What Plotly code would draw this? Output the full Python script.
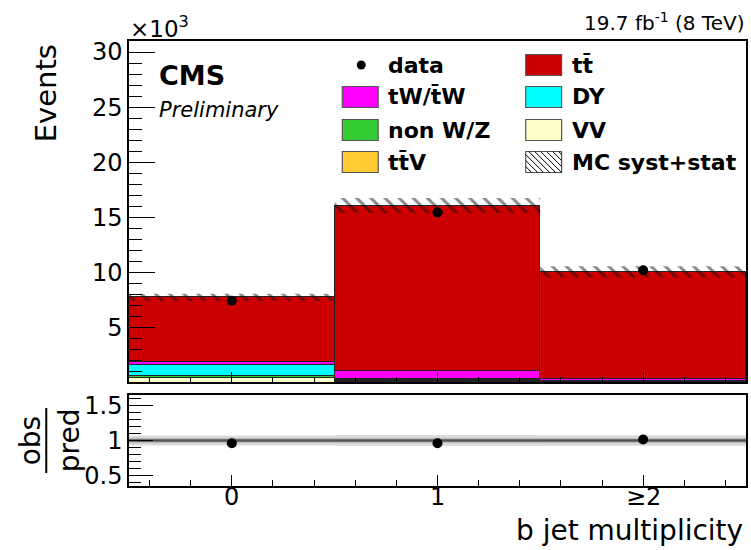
import plotly.graph_objects as go
import numpy as np

# ---------------- data ----------------
bins = [0, 1, 2]
bin_labels = ["0", "1", "≥2"]
vv = [420, 50, 5]
nonwz = [150, 120, 15]
ttv = [50, 70, 100]
dy = [950, 120, 20]
tw = [330, 700, 170]
ttbar = [5830, 15000, 9740]
mc_unc = [320, 680, 500]
data = [7430, 15430, 10200]
ratio_band_outer = [0.07, 0.08, 0.075]
ratio_band_inner = [0.038, 0.038, 0.04]

# ---------------- style ----------------
FONT = "DejaVu Sans"
colors = {
    "VV": "#FFFFCC", "non W/Z": "#33CC33", "ttV": "#FFCC33",
    "DY": "#00FFFF", "tW": "#FF00FF", "tt": "#CC0000",
}
W, H = 751, 550
ML, MR, MT, MB = 129, 3, 41, 64
PW, PH = W - ML - MR, H - MT - MB


def X(px):
    return (px - ML) / PW


def Y(py):
    return (H - MB - py) / PH


scale = 1000.0
stack = [("VV", vv), ("non W/Z", nonwz), ("ttV", ttv), ("DY", dy), ("tW", tw), ("tt", ttbar)]
total = np.sum([np.array(v, float) for _, v in stack], axis=0)
dat = np.array(data, float)
unc = np.array(mc_unc, float)

fig = go.Figure()
for name, vals in stack:
    fig.add_trace(go.Bar(
        x=bins, y=np.array(vals) / scale, width=1.0,
        marker=dict(color=colors[name], line=dict(color="#222222", width=1)),
        showlegend=False, xaxis="x", yaxis="y"))

edges = [b - 0.5 for b in bins] + [bins[-1] + 0.5]
lo = list((total - unc) / scale) + [(total[-1] - unc[-1]) / scale]
hi = list((total + unc) / scale) + [(total[-1] + unc[-1]) / scale]
fig.add_trace(go.Scatter(x=edges, y=lo, mode="lines", line=dict(width=0, shape="hv"),
                         showlegend=False, xaxis="x", yaxis="y", hoverinfo="skip"))
fig.add_trace(go.Scatter(x=edges, y=hi, mode="lines", line=dict(width=0, shape="hv"),
                         fill="tonexty", fillcolor="rgba(0,0,0,0)",
                         fillpattern=dict(shape="\\", fgcolor="#111111", bgcolor="rgba(0,0,0,0)",
                                          size=10, solidity=0.3),
                         showlegend=False, xaxis="x", yaxis="y", hoverinfo="skip"))

fig.add_trace(go.Scatter(
    x=bins, y=dat / scale, mode="markers",
    marker=dict(color="black", size=10),
    error_y=dict(type="data", array=np.sqrt(dat) / scale, color="black", thickness=1.5, width=0),
    showlegend=False, xaxis="x", yaxis="y"))

# ratio panel
for band, col in [(ratio_band_outer, "#DCDCDC"), (ratio_band_inner, "#BDBDBD")]:
    b = list(band) + [band[-1]]
    fig.add_trace(go.Scatter(x=edges, y=[1 - v for v in b], mode="lines",
                             line=dict(width=0, shape="hv"), showlegend=False,
                             xaxis="x2", yaxis="y2", hoverinfo="skip"))
    fig.add_trace(go.Scatter(x=edges, y=[1 + v for v in b], mode="lines",
                             line=dict(width=0, shape="hv"), fill="tonexty", fillcolor=col,
                             showlegend=False, xaxis="x2", yaxis="y2", hoverinfo="skip"))
fig.add_trace(go.Scatter(x=[edges[0], edges[-1]], y=[1, 1], mode="lines",
                         line=dict(color="#555555", width=2.5), showlegend=False,
                         xaxis="x2", yaxis="y2", hoverinfo="skip"))
fig.add_trace(go.Scatter(x=bins, y=dat / total, mode="markers",
                         marker=dict(color="black", size=10), showlegend=False,
                         xaxis="x2", yaxis="y2"))

axis_common = dict(showline=True, linecolor="black", linewidth=1.5, mirror=True,
                   showgrid=False, zeroline=False, ticks="inside", tickcolor="black",
                   tickfont=dict(family=FONT, size=24, color="black"))

fig.update_layout(
    width=W, height=H, margin=dict(l=ML, r=MR, t=MT, b=MB),
    paper_bgcolor="white", plot_bgcolor="white", barmode="stack", bargap=0,
    font=dict(family=FONT, color="black"),
    xaxis=dict(axis_common, domain=[0, 1], anchor="y", range=[-0.5, 2.5],
               tickmode="linear", tick0=0, dtick=1, ticklen=10, showticklabels=False,
               minor=dict(ticks="inside", ticklen=5, dtick=0.2, tick0=0, tickcolor="black")),
    yaxis=dict(axis_common, domain=[Y(382), 1], anchor="x", range=[0.05, 31],
               tickmode="linear", tick0=0, dtick=5, ticklen=26,
               minor=dict(ticks="inside", ticklen=13, dtick=1, tick0=0, tickcolor="black")),
    xaxis2=dict(axis_common, domain=[0, 1], anchor="y2", range=[-0.5, 2.5],
                tickmode="linear", tick0=0, dtick=1, ticklen=11, showticklabels=False,
                minor=dict(ticks="inside", ticklen=6, dtick=0.2, tick0=0, tickcolor="black")),
    yaxis2=dict(axis_common, domain=[0, Y(395)], anchor="x2", range=[0.35, 1.65],
                tickmode="linear", tick0=0, dtick=0.5, ticklen=24,
                minor=dict(ticks="inside", ticklen=12, dtick=0.1, tick0=0, tickcolor="black")),
)

ann = []
shapes = []


def text(s, px, py, size, xa="left", ya="middle", angle=0):
    ann.append(dict(text=s, x=X(px), y=Y(py), xref="paper", yref="paper",
                    xanchor=xa, yanchor=ya, showarrow=False, textangle=angle,
                    font=dict(family=FONT, size=size, color="black")))


# x tick labels of the ratio panel, placed on the x2 data scale
for b, lab in zip(bins, bin_labels):
    ann.append(dict(text=lab, x=b, xref="x2", y=Y(497), yref="paper",
                    xanchor="center", yanchor="middle", showarrow=False,
                    font=dict(family=FONT, size=24, color="black")))

text("Events", 46, 42, 29, xa="center", ya="top", angle=-90)
text("×10<sup>3</sup>", 128, 27, 23, xa="left")
text("19.7 fb<sup>-1</sup> (8 TeV)", 748, 22, 20, xa="right")
text("<b>CMS</b>", 157, 75, 27)
text("<i>Preliminary</i>", 157, 110, 21)
text("b jet multiplicity", 747, 530, 28, xa="right")
text("obs", 30, 440, 28, xa="center", angle=-90)
text("pred", 69, 440, 28, xa="center", angle=-90)
shapes.append(dict(type="line", xref="paper", yref="paper", x0=X(46), x1=X(46),
                   y0=Y(408), y1=Y(473), line=dict(color="black", width=2)))

# legend
legend_entries = [
    (343, 65, "data", "<b>data</b>"),
    (343, 97, "tW", "<b>tW/t\u0304W</b>"),
    (343, 130, "non W/Z", "<b>non W/Z</b>"),
    (343, 162, "ttV", "<b>tt\u0304V</b>"),
    (527, 65, "tt", "<b>tt\u0304</b>"),
    (527, 97, "DY", "<b>DY</b>"),
    (527, 130, "VV", "<b>VV</b>"),
    (527, 162, "MC", "<b>MC syst+stat</b>"),
]
bw, bh = 36, 21
for bx, by, key, label in legend_entries:
    text(label, bx + 44, by, 22)
    if key == "data":
        cx, cy, r = bx + 19, by, 4.5
        shapes.append(dict(type="circle", xref="paper", yref="paper",
                           x0=X(cx - r), x1=X(cx + r), y0=Y(cy + r), y1=Y(cy - r),
                           fillcolor="black", line=dict(color="black", width=0)))
        continue
    x0, x1, top, bot = bx, bx + bw, by - bh / 2, by + bh / 2
    fill = "white" if key == "MC" else colors[key]
    shapes.append(dict(type="rect", xref="paper", yref="paper",
                       x0=X(x0), x1=X(x1), y0=Y(bot), y1=Y(top),
                       fillcolor=fill, line=dict(color="#555555", width=1.2)))
    if key == "MC":
        c = x0 - bh
        while c < x1:
            d0 = max(0, x0 - c)
            d1 = min(bh, x1 - c)
            if d1 > d0:
                shapes.append(dict(type="line", xref="paper", yref="paper",
                                   x0=X(c + d0), y0=Y(top + d0), x1=X(c + d1), y1=Y(top + d1),
                                   line=dict(color="black", width=1)))
            c += 6

fig.update_layout(annotations=ann, shapes=shapes)
fig.write_html("out.html")
